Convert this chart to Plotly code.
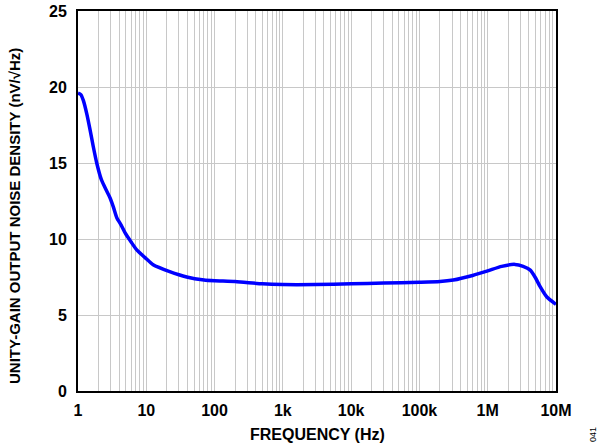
import plotly.graph_objects as go

freq_hz = [1, 1.1, 1.2, 1.35, 1.5, 1.67, 1.88, 2.2, 2.6, 2.95, 3.3, 3.7, 4.3, 4.9, 6.0, 7.2, 10, 12.6, 22, 39, 70, 100, 200, 500,
           1e3, 3e3, 1e4, 3e4, 1e5, 2e5, 3.13e5, 6e5, 1e6, 1.6e6, 2.5e6, 3.3e6, 4.2e6, 5.0e6, 5.8e6, 7.3e6, 1e7]
noise_nv = [19.6, 19.5, 19.1, 18.2, 17.2, 16.1, 15.0, 13.9, 13.2, 12.7, 12.1, 11.4, 10.9, 10.4, 9.8, 9.3, 8.7, 8.3, 7.85, 7.5, 7.3, 7.25, 7.2, 7.05,
            7.0, 7.0, 7.05, 7.1, 7.15, 7.2, 7.3, 7.6, 7.9, 8.2, 8.33, 8.2, 7.95, 7.45, 6.9, 6.2, 5.7]

x_tickvals = [1, 10, 100, 1e3, 1e4, 1e5, 1e6, 1e7]
x_ticktext = ["1", "10", "100", "1k", "10k", "100k", "1M", "10M"]
y_tickvals = [0, 5, 10, 15, 20, 25]

font = "Liberation Sans, Arial, sans-serif"
grid = "#c8c8c8"

W, H = 604, 444
ML, MR, MT, MB = 78, 48, 11, 53
PW, PH = W - ML - MR, H - MT - MB

def px(x):  # page x -> paper fraction
    return (x - ML) / PW

def py(y):  # page y -> paper fraction
    return (H - MB - y) / PH

fig = go.Figure()
fig.add_trace(go.Scatter(x=freq_hz, y=noise_nv, mode="lines",
                         line=dict(color="#0000ff", width=3.5, shape="spline", smoothing=0.6),
                         showlegend=False, hoverinfo="skip"))

fig.update_layout(
    width=W, height=H,
    margin=dict(l=ML, r=MR, t=MT, b=MB),
    paper_bgcolor="white", plot_bgcolor="white",
    font=dict(family=font, color="black"),
    showlegend=False,
)
fig.update_xaxes(
    type="log", range=[0, 7], automargin=False,
    tickvals=x_tickvals, ticktext=x_ticktext,
    tickfont=dict(family=font, size=16, color="black", weight="bold"),
    showgrid=True, gridcolor=grid, gridwidth=1.3,
    minor=dict(dtick="D1", showgrid=True, gridcolor=grid, gridwidth=1.3),
    showline=True, linecolor="black", linewidth=2, mirror=True,
    ticks="outside", ticklen=4, tickcolor="rgba(0,0,0,0)", zeroline=False,
)
fig.update_yaxes(
    range=[0, 25], tickvals=y_tickvals, automargin=False,
    tickfont=dict(family=font, size=16, color="black", weight="bold"),
    showgrid=True, gridcolor=grid, gridwidth=1.3,
    showline=True, linecolor="black", linewidth=2, mirror=True,
    ticks="outside", ticklen=6, tickcolor="rgba(0,0,0,0)", zeroline=False,
)
fig.add_annotation(text="FREQUENCY (Hz)", xref="paper", yref="paper",
                   x=px(317), y=py(434), xanchor="center", yanchor="middle", showarrow=False,
                   font=dict(family=font, size=16, color="black", weight="bold"))
fig.add_annotation(text="UNITY-GAIN OUTPUT NOISE DENSITY (nV/√Hz)", xref="paper", yref="paper",
                   x=px(14), y=py(216), xanchor="center", yanchor="middle", showarrow=False, textangle=-90,
                   font=dict(family=font, size=15, color="black", weight="bold"))
fig.add_annotation(text="041", xref="paper", yref="paper",
                   x=px(593), y=py(435), xanchor="center", yanchor="middle", showarrow=False, textangle=-90,
                   font=dict(family=font, size=9, color="black"))

fig.write_html("out.html", config={"displayModeBar": False},
               post_script="document.body.style.margin='0';")
